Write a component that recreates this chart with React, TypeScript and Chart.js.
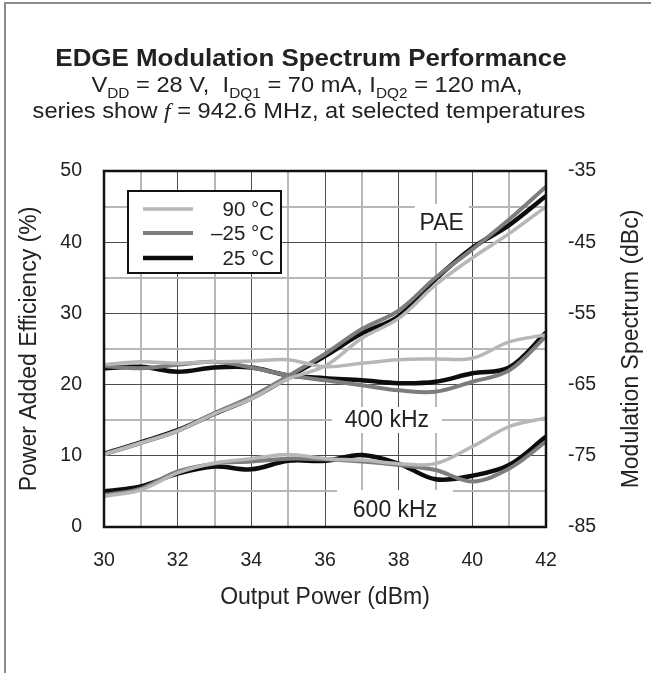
import React, { useEffect, useRef } from 'react';
import { Chart, registerables } from 'chart.js';

Chart.register(...registerables);

const FONT = '"Liberation Sans", Arial, Helvetica, sans-serif';

// Output power (dBm)
const outputPower = [30, 31, 32, 33, 34, 35, 36, 37, 38, 39, 40, 41, 42];

// Power Added Efficiency (%)
const pae90 = [10.2, 11.8, 13.5, 15.9, 18.0, 20.8, 22.6, 26.5, 29.3, 34.0, 37.8, 41.2, 45.0];
const paeM25 = [10.2, 11.8, 13.5, 16.0, 18.3, 21.2, 24.3, 27.8, 30.4, 35.0, 39.0, 43.2, 47.8];
const pae25 = [10.3, 11.9, 13.6, 15.9, 18.1, 21.0, 24.0, 27.2, 29.6, 34.8, 39.2, 42.4, 46.5];

// Modulation spectrum @ 400 kHz offset (dBc)
const m400_90 = [-62.2, -61.8, -62.0, -61.8, -61.7, -61.5, -62.5, -62.0, -61.5, -61.4, -61.3, -59.0, -58.0];
const m400_M25 = [-62.4, -62.7, -62.2, -61.8, -62.6, -63.7, -64.4, -65.1, -65.8, -66.0, -64.6, -63.0, -58.2];
const m400_25 = [-62.7, -62.5, -63.2, -62.6, -62.6, -63.7, -64.1, -64.4, -64.8, -64.6, -63.4, -62.6, -57.7];

// Modulation spectrum @ 600 kHz offset (dBc)
const m600_90 = [-80.7, -79.8, -77.4, -76.0, -75.4, -74.8, -75.4, -75.6, -76.1, -76.1, -73.7, -70.9, -69.7];
const m600_M25 = [-80.5, -79.6, -77.2, -76.1, -75.8, -75.4, -75.5, -75.8, -76.3, -77.0, -78.6, -76.8, -73.0];
const m600_25 = [-80.0, -79.3, -77.5, -76.5, -76.9, -75.7, -75.7, -74.9, -76.1, -78.3, -77.8, -76.3, -72.3];

const tempLabels = ['90 \u00B0C', '\u201325 \u00B0C', '25 \u00B0C'];
const tempColors = ['#b6b7b9', '#7c7d80', '#0d0d0d'];
const tempWidths = [3.5, 4, 4.5];

// curve-family labels: text, anchor (x in dBm, y in PAE %), white box half sizes
const regionLabels = ['PAE', '400 kHz', '600 kHz'];
const regionAnchorX = [39.17, 37.68, 37.9];
const regionAnchorY = [42.7, 15.03, 2.39];
const regionBoxHalfW = [27, 55, 58];
const regionBoxHalfH = [19, 13, 20];

const xTitle = 'Output Power (dBm)';
const yLeftTitle = 'Power Added Efficiency (%)';
const yRightTitle = 'Modulation Spectrum (dBc)';

const toPts = (vals: number[]) => outputPower.map((x, i) => ({ x, y: vals[i] }));

const framePlugin = {
  id: 'frameAndLabels',
  beforeDatasetsDraw(chart: any) {
    const { ctx, scales } = chart;
    ctx.save();
    regionLabels.forEach((t, i) => {
      const cx = scales.x.getPixelForValue(regionAnchorX[i]);
      const cy = scales.y.getPixelForValue(regionAnchorY[i]);
      ctx.fillStyle = '#ffffff';
      const bottom = Math.min(cy + regionBoxHalfH[i], chart.chartArea.bottom - 1);
      ctx.fillRect(cx - regionBoxHalfW[i], cy - regionBoxHalfH[i], regionBoxHalfW[i] * 2, bottom - (cy - regionBoxHalfH[i]));
    });
    ctx.restore();
  },
  afterDatasetsDraw(chart: any) {
    const { ctx, chartArea, scales } = chart;
    ctx.save();
    // curve-family labels
    ctx.font = `23px ${FONT}`;
    ctx.textAlign = 'center';
    ctx.textBaseline = 'middle';
    ctx.fillStyle = '#222222';
    regionLabels.forEach((t, i) => {
      const cx = scales.x.getPixelForValue(regionAnchorX[i]);
      const cy = scales.y.getPixelForValue(regionAnchorY[i]);
      ctx.fillText(t, cx, cy + 1);
    });
    // frame
    ctx.strokeStyle = '#111111';
    ctx.lineWidth = 2.5;
    ctx.strokeRect(chartArea.left, chartArea.top, chartArea.right - chartArea.left, chartArea.bottom - chartArea.top);
    // legend
    const lx = chartArea.left + 24;
    const ly = chartArea.top + 20;
    const lw = 153;
    const lh = 82;
    ctx.fillStyle = '#ffffff';
    ctx.fillRect(lx, ly, lw, lh);
    ctx.lineWidth = 2;
    ctx.strokeStyle = '#111111';
    ctx.strokeRect(lx, ly, lw, lh);
    const rows = [18, 42, 67];
    ctx.font = `20.5px ${FONT}`;
    ctx.textAlign = 'right';
    tempLabels.forEach((t, i) => {
      const y = ly + rows[i];
      ctx.strokeStyle = tempColors[i];
      ctx.lineWidth = tempWidths[i];
      ctx.beginPath();
      ctx.moveTo(lx + 15, y);
      ctx.lineTo(lx + 65, y);
      ctx.stroke();
      ctx.fillStyle = '#222222';
      ctx.fillText(t, lx + 146, y + 1);
    });
    // right axis title, reading bottom-to-top
    const r = scales.y1;
    ctx.translate(r.right - 19.5, (chartArea.top + chartArea.bottom) / 2);
    ctx.rotate(-Math.PI / 2);
    ctx.font = `23px ${FONT}`;
    ctx.textAlign = 'center';
    ctx.textBaseline = 'middle';
    ctx.fillStyle = '#222222';
    ctx.fillText(yRightTitle, 0, 0);
    ctx.restore();
  },
};

export default function App() {
  const ref = useRef<HTMLCanvasElement>(null);

  useEffect(() => {
    if (!ref.current) return;
    const mk = (vals: number[], i: number, axis: string) => ({
      label: tempLabels[i],
      data: toPts(vals),
      yAxisID: axis,
      borderColor: tempColors[i],
      backgroundColor: tempColors[i],
      borderWidth: tempWidths[i],
      pointRadius: 0,
      tension: 0.35,
      fill: false,
    });
    const datasets = [
      mk(pae90, 0, 'y'), mk(m400_90, 0, 'y1'), mk(m600_90, 0, 'y1'),
      mk(paeM25, 1, 'y'), mk(m400_M25, 1, 'y1'), mk(m600_M25, 1, 'y1'),
      mk(pae25, 2, 'y'), mk(m400_25, 2, 'y1'), mk(m600_25, 2, 'y1'),
    ];
    const zeroPad = (s: any) => {
      s.paddingLeft = 0; s.paddingRight = 0; s.paddingTop = 0; s.paddingBottom = 0;
    };
    const chart = new Chart(ref.current, {
      type: 'line',
      data: { datasets },
      plugins: [framePlugin],
      options: {
        animation: false,
        responsive: true,
        maintainAspectRatio: false,
        layout: { padding: { top: 171, left: 0, right: 0, bottom: 0 } },
        plugins: { legend: { display: false }, tooltip: { enabled: false }, title: { display: false } },
        scales: {
          x: {
            type: 'linear',
            min: 30,
            max: 42,
            afterFit: (s: any) => { s.height = 146; zeroPad(s); },
            border: { display: false },
            grid: {
              drawTicks: false,
              color: (c: any) => (c.tick && Math.round(c.tick.value) % 2 === 0 ? '#4d4d4d' : '#b7b7b7'),
              lineWidth: (c: any) => (c.tick && Math.round(c.tick.value) % 2 === 0 ? 1 : 2),
            },
            ticks: {
              stepSize: 1,
              autoSkip: false,
              maxRotation: 0,
              padding: 22,
              color: '#222222',
              font: { family: FONT, size: 19.5 },
              callback: (v: any) => (Math.round(v) % 2 === 0 ? String(v) : ''),
            },
            title: {
              display: true,
              text: xTitle,
              color: '#222222',
              font: { family: FONT, size: 23 },
              padding: { top: 0, bottom: 62 },
            },
          },
          y: {
            type: 'linear',
            position: 'left',
            min: 0,
            max: 50,
            afterFit: (s: any) => { s.width = 104; zeroPad(s); },
            border: { display: false },
            grid: {
              drawTicks: false,
              color: (c: any) => (c.tick && Math.round(c.tick.value) % 10 === 0 ? '#4d4d4d' : '#b7b7b7'),
              lineWidth: (c: any) => (c.tick && Math.round(c.tick.value) % 10 === 0 ? 1 : 2),
            },
            ticks: {
              stepSize: 5,
              autoSkip: false,
              padding: 22,
              color: '#222222',
              font: { family: FONT, size: 19.5 },
              callback: (v: any) => (Math.round(v) % 10 === 0 ? String(v) : ''),
            },
            title: {
              display: true,
              text: yLeftTitle,
              color: '#222222',
              font: { family: FONT, size: 23 },
              padding: { top: 16, bottom: 0 },
            },
          },
          y1: {
            type: 'linear',
            position: 'right',
            min: -85,
            max: -35,
            afterFit: (s: any) => { s.width = 105; zeroPad(s); },
            border: { display: false },
            grid: { display: false, drawTicks: false },
            ticks: {
              stepSize: 5,
              autoSkip: false,
              padding: 22,
              color: '#222222',
              font: { family: FONT, size: 19.5 },
              callback: (v: any) => (Math.round(v + 85) % 10 === 0 ? String(v) : ''),
            },
            title: { display: false },
          },
        },
      },
    } as any);
    return () => chart.destroy();
  }, []);

  const sub = { fontSize: 14, position: 'relative' as const, top: 6 };
  const line = (top: number, size: number, cx: number, sx: number, bold = false) => ({
    position: 'absolute' as const,
    left: cx - 320,
    width: 640,
    top,
    textAlign: 'center' as const,
    fontSize: size,
    lineHeight: `${size}px`,
    fontWeight: bold ? 700 : 400,
    color: '#222222',
    fontFamily: FONT,
    whiteSpace: 'nowrap' as const,
    transform: `scaleX(${sx})`,
    transformOrigin: '50% 50%',
  });

  return (
    <div style={{ position: 'fixed', left: 0, top: 0, width: 651, height: 673, background: '#ffffff', overflow: 'hidden' }}>
      <div style={{ position: 'absolute', left: 0, top: 0, width: 651, height: 673 }}>
        <canvas ref={ref} />
      </div>
      <div style={{ position: 'absolute', left: 4, top: 2, width: 700, height: 700, borderLeft: '2px solid #8c8c8c', borderTop: '2px solid #8c8c8c', pointerEvents: 'none' }} />
      <div style={line(46, 24, 311, 1.08, true)}>EDGE Modulation Spectrum Performance</div>
      <div style={line(75, 21.5, 307, 1.1)}>
        V<span style={sub}>DD</span> = 28 V, {'\u00A0'}I<span style={sub}>DQ1</span> = 70 mA, I<span style={sub}>DQ2</span> = 120 mA,
      </div>
      <div style={line(101, 21.5, 308.5, 1.1)}>
        series show <span style={{ fontFamily: '"Liberation Serif", "DejaVu Serif", serif', fontStyle: 'italic' }}>f</span> = 942.6 MHz, at selected temperatures
      </div>
    </div>
  );
}
